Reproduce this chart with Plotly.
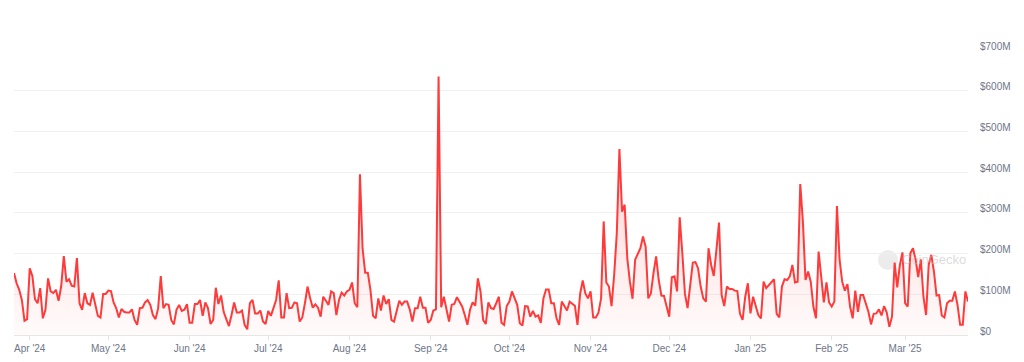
import pandas as pd
import plotly.graph_objects as go

# Daily trading volume (USD millions), 2024-03-26 .. 2025-03-25
start_date = "2024-03-26"
volume_m = [
    152, 127, 111, 86, 35, 39, 164, 145, 88, 78, 115, 41, 62, 139, 107, 103, 111, 84, 119, 194,
    131, 137, 121, 119, 189, 78, 62, 103, 78, 74, 104, 78, 47, 43, 101, 101, 109, 108, 80, 66,
    43, 64, 57, 55, 55, 63, 37, 25, 66, 67, 80, 86, 74, 49, 39, 66, 145, 66, 76, 74,
    37, 26, 62, 74, 59, 62, 76, 30, 30, 76, 76,
    86, 47, 80, 66, 27, 37, 116, 76, 97, 57, 39, 22, 49, 80, 55, 55, 60, 25, 14, 78,
    86, 53, 53, 60, 33, 27, 59, 47, 66, 86, 134, 43, 43, 103, 66, 67, 80, 78, 33, 43,
    78, 119, 90, 67, 75, 67, 45, 94, 84, 74, 107, 103, 49, 86, 104, 97, 107, 111, 129, 78,
    68, 395, 212, 153, 153, 111, 47, 41, 90, 60, 97,
    76, 88, 37, 33, 62, 84, 74, 82, 82, 63, 33, 66, 66, 94, 67, 67, 30, 37, 60, 63,
    635, 68, 94, 62, 33, 74, 76, 93, 82, 70, 49, 25, 62, 80, 72, 139, 107, 37, 27, 80,
    66, 64, 78, 94, 30, 25, 71, 82, 107, 88, 74, 29, 23, 71, 70, 45, 59, 45, 48, 30,
    90, 112, 112, 78, 78, 41, 25, 82, 72, 60, 82,
    78, 72, 25, 101, 134, 102, 90, 107, 43, 43, 55, 90, 279, 129, 119, 71, 148, 250, 457, 303,
    320, 189, 131, 89, 185, 201, 213, 242, 217, 90, 102, 152, 193, 135, 97, 96, 70, 45, 142, 144,
    107, 289, 201, 101, 66, 127, 178, 179, 164, 119, 90, 82, 213, 172, 145, 209, 276, 98, 71, 119,
    113, 113, 109, 108, 52, 37, 94, 127, 53, 94, 74,
    49, 41, 131, 115, 123, 131, 137, 52, 43, 119, 137, 135, 144, 172, 129, 131, 371, 279, 135, 156,
    131, 70, 41, 205, 139, 80, 129, 80, 70, 82, 317, 185, 131, 109, 125, 70, 41, 109, 57, 98,
    98, 80, 57, 26, 52, 53, 63, 48, 71, 55, 20, 45, 178, 117, 172, 203, 78, 70, 201, 213,
    186, 142, 186, 94, 49, 172, 197, 156, 97, 98, 48, 43,
    78, 84, 84, 107, 74, 25, 25, 107, 82,
]
y_tick_values = [0, 100, 200, 300, 400, 500, 600, 700]
y_tick_labels = ["$0", "$100M", "$200M", "$300M", "$400M", "$500M", "$600M", "$700M"]

dates = pd.date_range(start_date, periods=len(volume_m), freq="D")

line_color = "#ff3a3a"
label_color = "#6e7687"
font_family = "'Liberation Sans', Arial, sans-serif"

fig = go.Figure()
fig.add_trace(go.Scatter(
    x=dates,
    y=volume_m,
    mode="lines",
    line=dict(color=line_color, width=2),
    fill="tozeroy",
    fillgradient=dict(
        type="vertical",
        start=0,
        stop=450,
        colorscale=[[0, "rgba(255,58,58,0.02)"], [1, "rgba(255,58,58,0.22)"]],
    ),
    hoverinfo="skip",
    showlegend=False,
))

# page body adds an 8px offset; figure is sized so that it ends at the window edge
PLOT_W = 954
PLOT_H = 285

# watermark (positions in plot-area fractions)
fig.add_shape(type="circle", xref="paper", yref="paper",
              x0=(878 - 14) / PLOT_W, x1=(898 - 14) / PLOT_W,
              y0=(335 - 270) / PLOT_H, y1=(335 - 250) / PLOT_H,
              fillcolor="rgba(200,200,200,0.35)", line=dict(width=0), layer="below")
fig.add_annotation(text="CoinGecko", xref="paper", yref="paper",
                   x=(900 - 14) / PLOT_W, y=(335 - 259) / PLOT_H, xanchor="left", yanchor="middle",
                   showarrow=False, font=dict(family=font_family, size=13, color="rgba(190,190,190,0.55)"))

fig.update_layout(
    width=1016,
    height=354,
    margin=dict(l=6, r=56, t=42, b=27, autoexpand=False),
    paper_bgcolor="white",
    plot_bgcolor="white",
    font=dict(family=font_family, size=10, color=label_color),
    xaxis=dict(
        range=[dates[0], dates[-1]],
        tickformat="%b '%y",
        dtick="M1",
        tick0="2024-04-01",
        ticks="outside",
        ticklen=4,
        tickcolor="#e3e3e3",
        showgrid=False,
        showline=True,
        linecolor="#e6e6e6",
        linewidth=1,
        zeroline=False,
        tickfont=dict(size=10, color=label_color),
    ),
    yaxis=dict(
        side="right",
        range=[0, 700],
        tickvals=y_tick_values,
        ticktext=y_tick_labels,
        showgrid=True,
        gridcolor="#f0f0f0",
        gridwidth=1,
        zeroline=False,
        ticks="",
        ticklabelstandoff=11,
        ticklabelshift=-4,
        tickfont=dict(size=10, color=label_color),
    ),
)

fig.write_html("out.html")
